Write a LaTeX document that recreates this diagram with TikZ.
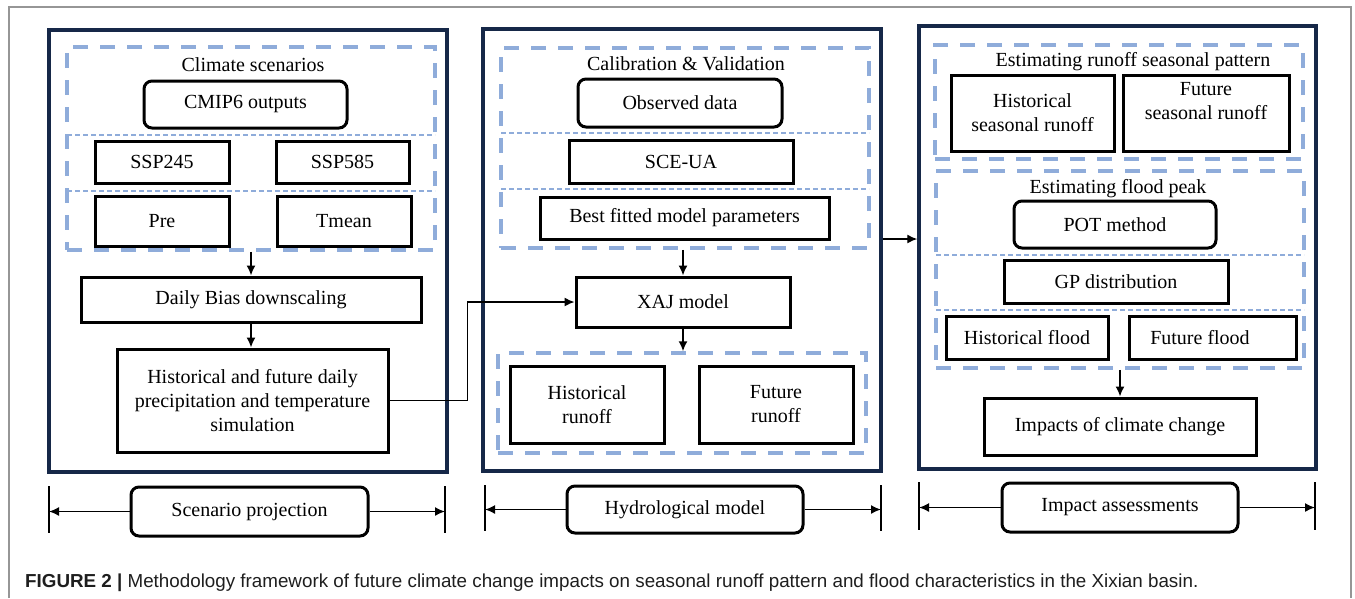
\documentclass[tikz,border=0pt]{standalone}
\usepackage{fontspec}
\setmainfont{Liberation Serif}
\newfontfamily\capfont{Liberation Sans}
\usetikzlibrary{arrows.meta,calc}
\definecolor{navy}{RGB}{22,40,72}
\definecolor{lblue}{RGB}{143,172,218}
\definecolor{frame}{RGB}{150,150,150}
\definecolor{captxt}{RGB}{30,30,30}
\tikzset{
  txt/.style={font=\fontsize{20}{24}\selectfont, align=center, inner sep=0pt},
  box/.style={txt, draw=black, line width=3pt, anchor=center},
  rbox/.style={box, rounded corners=8pt},
  panel/.style={draw=navy, line width=3.5pt, inner sep=0pt, anchor=center},
  dbox/.style={draw=lblue, line width=3.5pt, dash pattern=on 15pt off 12pt, inner sep=0pt, anchor=center},
  sepline/.style={draw=lblue, line width=1.3pt, dash pattern=on 5pt off 3pt},
  arr/.style={draw=black, line width=1.6pt, -{Latex[length=10pt,width=9pt]}},
  tick/.style={draw=black, line width=1.6pt},
}
\begin{document}
\begin{tikzpicture}[x=1pt,y=-1pt]
\useasboundingbox (0,0) rectangle (1355,598);
% outer frame
\draw[frame, line width=1.5pt] (9,598) -- (9,7) -- (1351,7) -- (1351,598);

% panels
\node[panel, minimum width=398pt, minimum height=442pt] (p1) at (248,251) {};
\node[panel, minimum width=398pt, minimum height=442pt] (p2) at (682,250) {};
\node[panel, minimum width=397pt, minimum height=443pt] (p3) at (1117.5,247.5) {};

% ---------- panel 1 ----------
\node[dbox, minimum width=368pt, minimum height=203pt] (d1) at (251,148.5) {};
\node[txt, anchor=base] (t1) at (253,71) {Climate scenarios};
\node[rbox, minimum width=203pt, minimum height=47pt] (cmip) at (245.5,104.5) {CMIP6 outputs};
\draw[sepline] (67,135) -- (435,135);
\node[box, minimum width=134pt, minimum height=42pt] (ssp245) at (162,162) {SSP245};
\node[box, minimum width=133pt, minimum height=42pt] (ssp585) at (342.5,162) {SSP585};
\draw[sepline] (67,191) -- (435,191);
\node[box, minimum width=134pt, minimum height=50pt] (pre) at (162,221) {Pre};
\node[box, minimum width=134pt, minimum height=50pt] (tmean) at (344,221) {Tmean};
\node[box, minimum width=340pt, minimum height=45pt] (dbd) at (251,299.5) {Daily Bias downscaling};
\node[box, minimum width=271pt, minimum height=103pt] (sim) at (252.5,400.5) {Historical and future daily\\precipitation and temperature\\simulation};
\draw[arr] (d1.south) -- (dbd.north);
\draw[arr] (dbd.south) -- (dbd.south |- sim.north);

% ---------- panel 2 ----------
\node[dbox, minimum width=368pt, minimum height=200pt] (d2) at (685,148) {};
\node[txt, anchor=base] (t2) at (686,70) {Calibration \& Validation};
\node[rbox, minimum width=204pt, minimum height=48pt] (obs) at (680,103) {Observed data};
\draw[sepline] (501,133) -- (869,133);
\node[box, minimum width=224pt, minimum height=43pt] (sce) at (681,161.5) {SCE-UA};
\draw[sepline] (501,189) -- (869,189);
\node[box, minimum width=289pt, minimum height=42pt] (bfp) at (684.5,218) {Best fitted model parameters};
\node[box, minimum width=214pt, minimum height=50pt] (xaj) at (683,302) {XAJ model};
\node[dbox, minimum width=368pt, minimum height=100pt] (d3) at (682,403) {};
\node[box, minimum width=154pt, minimum height=77pt] (hr) at (587,404.5) {Historical\\runoff};
\node[box, minimum width=154pt, minimum height=77pt] (fr) at (776,404.5) {Future\\runoff};
\draw[arr] (xaj.north |- d2.south) -- (xaj.north);
\draw[arr] (xaj.south) -- (xaj.south |- d3.north);
\draw[arr, line width=1.4pt] (sim.east) -- ++(78,0) |- (xaj.west);

% ---------- panel 3 ----------
\node[dbox, minimum width=368pt, minimum height=114pt] (d4) at (1119,102) {};
\node[txt, anchor=base] (t4) at (1133,66) {Estimating runoff seasonal pattern};
\node[box, minimum width=163pt, minimum height=76pt] (hsr) at (1032.5,113) {Historical\\seasonal runoff};
\node[box, minimum width=166pt, minimum height=76pt] (fsr) at (1206,113) {};
\node[txt] (fsrt) at (1206,101) {Future\\seasonal runoff};
\node[dbox, minimum width=368pt, minimum height=197pt] (d5) at (1120,269.5) {};
\node[txt, anchor=base] (t5) at (1118,193) {Estimating flood peak};
\node[rbox, minimum width=202pt, minimum height=47pt] (pot) at (1115,224.5) {POT method};
\draw[sepline] (936,255) -- (1304,255);
\node[box, minimum width=224pt, minimum height=43pt] (gp) at (1116,281.5) {GP distribution};
\draw[sepline] (936,310) -- (1304,310);
\node[box, minimum width=162pt, minimum height=43pt] (hf) at (1027,337.5) {Historical flood};
\node[box, minimum width=167pt, minimum height=43pt] (ff) at (1212.5,337.5) {};
\node[txt] (fft) at (1200,337.5) {Future flood};
\node[box, minimum width=272pt, minimum height=57pt] (imp) at (1120,426.5) {Impacts of climate change};
\draw[arr] (imp.north |- d5.south) -- (imp.north);

% panel 2 -> panel 3
\draw[arr, line width=1.4pt] ($(p2.east)+(0,-11)$) -- ($(p3.west)+(0,-8.5)$);

% ---------- spans ----------
\node[rbox, minimum width=237pt, minimum height=49pt] (s1) at (249.5,511.5) {Scenario projection};
\coordinate (s1l) at (49,511.5);
\coordinate (s1r) at (445,511.5);
\draw[tick] (49,486) -- (49,533);
\draw[tick] (445,486) -- (445,533);
\draw[arr] (s1.west) -- (s1l);
\draw[arr] (s1.east) -- (s1r);

\node[rbox, minimum width=236pt, minimum height=47pt] (s2) at (685,509.5) {Hydrological model};
\coordinate (s2l) at (485,509.5);
\coordinate (s2r) at (881,509.5);
\draw[tick] (485,485) -- (485,531);
\draw[tick] (881,485) -- (881,531);
\draw[arr] (s2.west) -- (s2l);
\draw[arr] (s2.east) -- (s2r);

\node[rbox, minimum width=236pt, minimum height=49pt] (s3) at (1120,507.5) {Impact assessments};
\coordinate (s3l) at (919,507.5);
\coordinate (s3r) at (1315,507.5);
\draw[tick] (919,482) -- (919,530);
\draw[tick] (1315,482) -- (1315,530);
\draw[arr] (s3.west) -- (s3l);
\draw[arr] (s3.east) -- (s3r);

% caption
\node[anchor=base west, inner sep=0pt, text=captxt, font=\capfont\fontsize{18.8}{22}\selectfont] (cap) at (25,587)
  {\textbf{FIGURE 2 |} Methodology framework of future climate change impacts on seasonal runoff pattern and flood characteristics in the Xixian basin.};
\end{tikzpicture}
\end{document}
